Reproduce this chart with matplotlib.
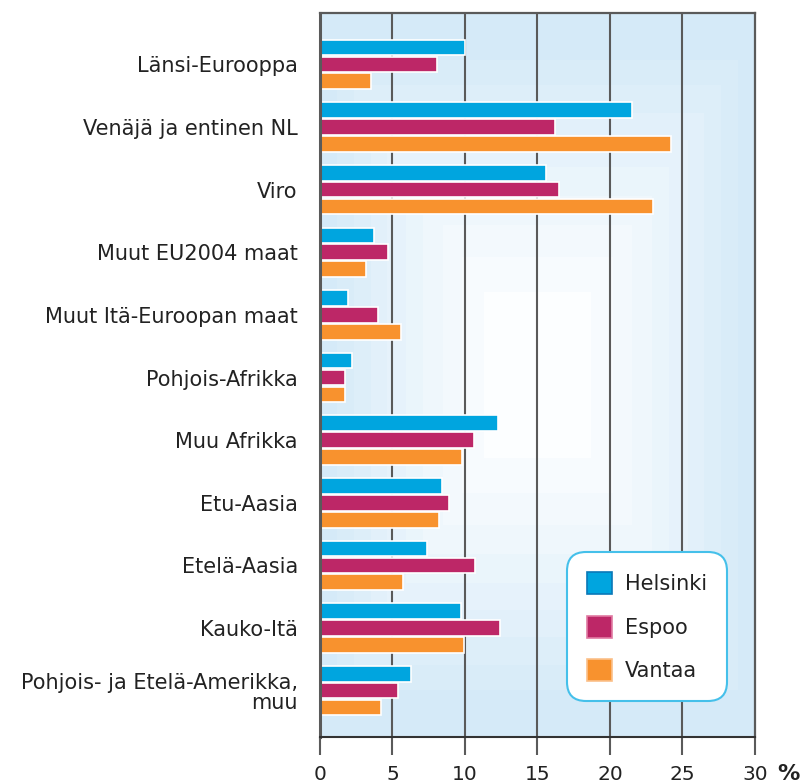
import numpy as np
import matplotlib
matplotlib.use("Agg")
from matplotlib import pyplot as plt
import matplotlib.patches as mpatches

plt.rcParams['font.family'] = ['DejaVu Sans']

####################################### Data ################################
categories = ["Länsi-Eurooppa", "Venäjä ja entinen NL", "Viro", "Muut EU2004 maat",
              "Muut Itä-Euroopan maat", "Pohjois-Afrikka", "Muu Afrikka", "Etu-Aasia",
              "Etelä-Aasia", "Kauko-Itä", "Pohjois- ja Etelä-Amerikka,\nmuu"]
helsinki = [10.0, 21.5, 15.6, 3.7, 1.9, 2.2, 12.3, 8.4, 7.4, 9.7, 6.3]
espoo = [8.1, 16.2, 16.5, 4.7, 4.0, 1.7, 10.6, 8.9, 10.7, 12.4, 5.4]
vantaa = [3.5, 24.2, 23.0, 3.2, 5.6, 1.7, 9.8, 8.2, 5.7, 9.9, 4.2]
series_names = ["Helsinki", "Espoo", "Vantaa"]
x_ticks = [0, 5, 10, 15, 20, 25, 30]
############################################################################

colors = ["#00a5df", "#bd2767", "#f8922e"]
edge_colors = ["#0a78b8", "#e07aa2", "#fbc08a"]
grid_col = "#5a5a5a"

fig = plt.figure(figsize=(8.03, 7.83), dpi=100)
ax = fig.add_axes([320 / 803, 46 / 783, 435 / 803, 724 / 783])

# background: concentric light-blue bands, whiter towards the middle
n = 400
xs = np.linspace(-1, 1, n)
X, Y = np.meshgrid(xs, xs)
d = np.maximum(np.abs(X) / 0.95, np.abs(Y) / 0.9)
d = np.clip((d - 0.12) / 0.85, 0, 1) ** 1.2
d = np.floor(d * 9) / 9
edge = np.array([213, 234, 248]) / 255
white = np.array([252, 254, 255]) / 255
img = white[None, None, :] * (1 - d[..., None]) + edge[None, None, :] * d[..., None]
ax.imshow(img, extent=[0, 1, 0, 1], transform=ax.transAxes, aspect="auto",
          zorder=0, interpolation="nearest")

y = np.arange(len(categories))
off = 0.27
h = 0.25
for i, vals in enumerate([helsinki, espoo, vantaa]):
    ax.barh(y + (i - 1) * off, vals, height=h, color=colors[i],
            edgecolor="white", linewidth=1.2, zorder=3)

for xv in x_ticks[1:-1]:
    ax.axvline(xv, color=grid_col, lw=1.5, zorder=2)

ax.set_xlim(0, 30)
ax.set_ylim(len(categories) - 1 + 0.74, -0.82)

ax.set_yticks(y)
ax.set_yticklabels(categories, fontsize=15, color="#222222", ha="right",
                   multialignment="right", linespacing=1.0)
ax.tick_params(axis="y", length=0, pad=16)

ax.set_xticks(x_ticks)
ax.set_xticklabels([str(t) for t in x_ticks], fontsize=14.5, color="#222222")
ax.tick_params(axis="x", length=13, width=1.5, color=grid_col, pad=7.5)
ax.annotate("%", xy=(30, 0), xycoords=("data", "axes fraction"),
            xytext=(16, -19.5), textcoords="offset points", fontsize=16,
            fontweight="bold", color="#222222", ha="left", va="top")

for s in ["left", "top", "right"]:
    ax.spines[s].set_color(grid_col)
    ax.spines[s].set_linewidth(1.6)
ax.spines["left"].set_linewidth(2.2)
ax.spines["bottom"].set_color("#333333")
ax.spines["bottom"].set_linewidth(1.5)
for s in ax.spines.values():
    s.set_zorder(4)

handles = [mpatches.Patch(facecolor=colors[i], edgecolor=edge_colors[i], linewidth=1.2,
                          label=series_names[i]) for i in range(3)]
leg = ax.legend(handles=handles, loc="lower left", bbox_to_anchor=(0.545, 0.035),
                fontsize=15, handlelength=1.2, handleheight=1.25, handletextpad=0.6,
                labelspacing=1.05, borderpad=0.95, frameon=True, fancybox=True)
frame = leg.get_frame()
frame.set_edgecolor("#45c0ea")
frame.set_linewidth(1.5)
frame.set_facecolor("white")
frame.set_alpha(1)
frame.set_boxstyle("round,pad=0,rounding_size=0.9")
for t in leg.get_texts():
    t.set_color("#222222")
leg.set_zorder(5)

plt.savefig("out.png", dpi=100)
